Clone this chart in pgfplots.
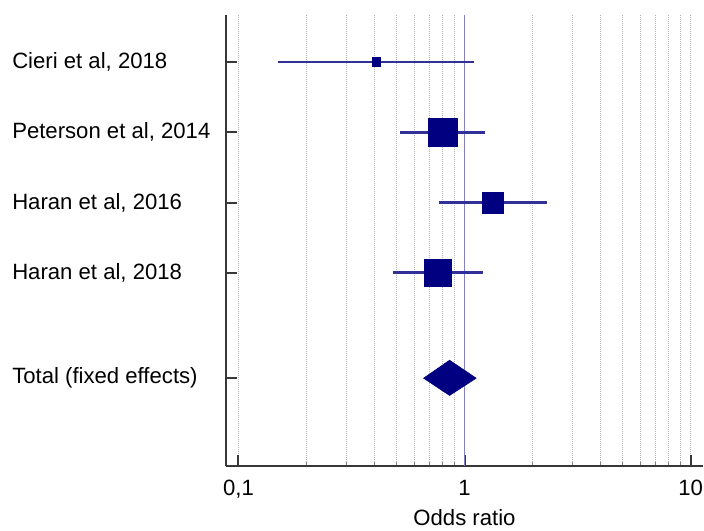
\documentclass[border=0pt]{standalone}
\usepackage{fontspec}
\setmainfont{Liberation Sans}
\usepackage{pgfplots}
\pgfplotsset{compat=1.18}
\definecolor{navy}{RGB}{0,0,128}
\definecolor{cicol}{RGB}{48,48,152}
\definecolor{refcol}{RGB}{130,130,195}
\definecolor{axcol}{RGB}{55,55,55}
\begin{document}
\begin{tikzpicture}
\begin{axis}[
  scale only axis, width=357.75pt, height=338.25pt,
  xmode=log, log basis x=10, xmin=0.0881, xmax=11.35,
  ymin=-0.67, ymax=5.75, y dir=reverse,
  axis x line*=bottom, axis y line*=left,
  axis line style={axcol, line width=2pt},
  xtick={0.1,1,10}, xticklabels={{0,1},{1},{10}},
  minor xtick={0.2,0.3,0.4,0.5,0.6,0.7,0.8,0.9,2,3,4,5,6,7,8,9},
  ytick={0,1,2,3,4.5},
  yticklabels={{Cieri et al, 2018},{Peterson et al, 2014},{Haran et al, 2016},{Haran et al, 2018},{Total (fixed effects)}},
  tick align=inside,
  major tick length=8pt, minor tick length=3pt,
  tick style={axcol, line width=1.5pt},
  minor tick style={line width=0.7pt, gray},
  xmajorgrids, xminorgrids,
  grid style={gray!60, dash pattern=on 0.75pt off 0.75pt, line width=0.6pt},
  major grid style={gray!60, dash pattern=on 0.75pt off 0.75pt, line width=0.6pt},
  minor grid style={gray!60, dash pattern=on 0.75pt off 0.75pt, line width=0.6pt},
  ticklabel style={font=\fontsize{16.6}{19}\selectfont},
  yticklabel style={anchor=west, inner sep=0pt, xshift=-160.5pt},
  xticklabel style={yshift=-7pt},
  xlabel={Odds ratio},
  xlabel style={font=\fontsize{16.6}{19}\selectfont, yshift=-1.5pt},
  clip=false,
]
\addplot[refcol, line width=1.1pt] coordinates {(1,-0.67) (1,5.75)};
\addplot[cicol, line width=2pt] coordinates {(0.150,0) (1.107,0)};
\addplot[cicol, line width=2pt] coordinates {(0.519,1) (1.226,1)};
\addplot[cicol, line width=2pt] coordinates {(0.775,2) (2.31,2)};
\addplot[cicol, line width=2pt] coordinates {(0.485,3) (1.206,3)};
\addplot[only marks, mark=square*, mark size=3.3pt, mark options={fill=navy, draw=navy, line width=0.3pt}] coordinates {(0.407,0)};
\addplot[only marks, mark=square*, mark size=10.7pt, mark options={fill=navy, draw=navy, line width=0.3pt}] coordinates {(0.80,1)};
\addplot[only marks, mark=square*, mark size=8.0pt, mark options={fill=navy, draw=navy, line width=0.3pt}] coordinates {(1.33,2)};
\addplot[only marks, mark=square*, mark size=10.0pt, mark options={fill=navy, draw=navy, line width=0.3pt}] coordinates {(0.759,3)};
\addplot[fill=navy, draw=navy, line width=0.4pt] coordinates {(0.659,4.5) (0.859,4.244) (1.127,4.5) (0.859,4.746)} -- cycle;
\coordinate (TL) at (axis cs:0.0881,-0.67);
\coordinate (BR) at (axis cs:11.35,5.75);
\end{axis}
\pgfresetboundingbox
\path[use as bounding box] ([xshift=-169.5pt,yshift=11.25pt]TL) rectangle ([xshift=0.75pt,yshift=-48.75pt]BR);
\end{tikzpicture}
\end{document}
